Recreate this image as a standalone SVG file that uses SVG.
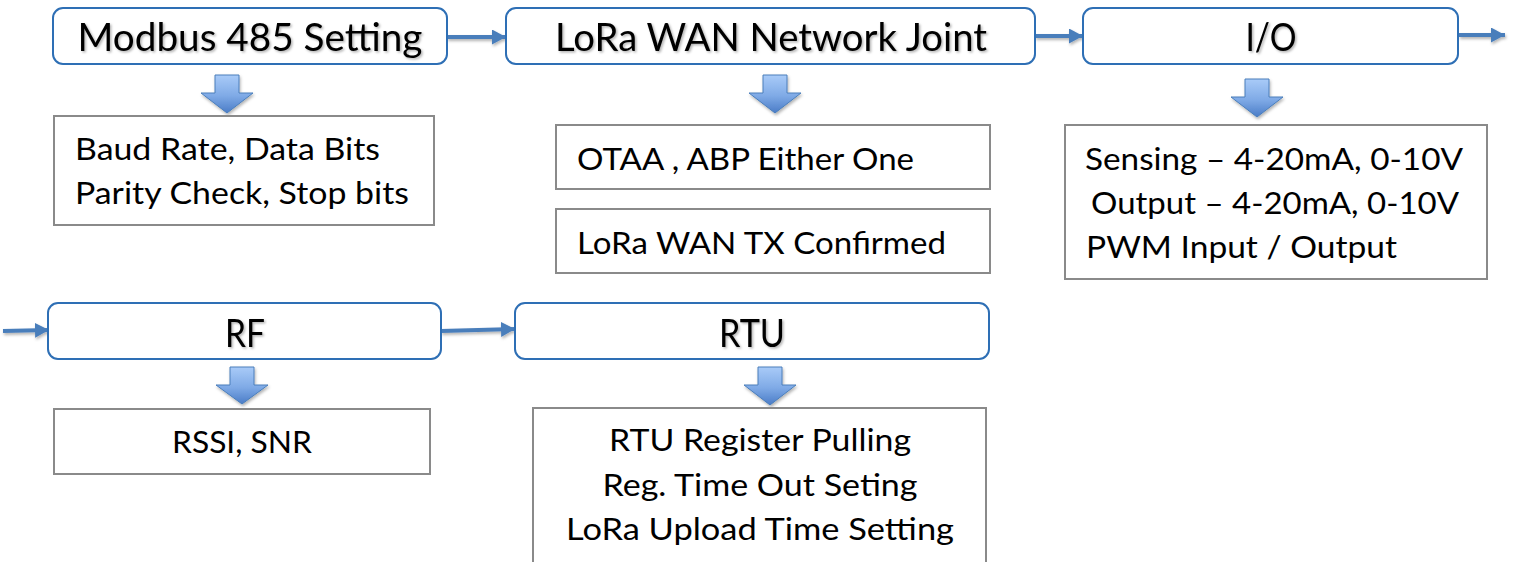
<svg xmlns="http://www.w3.org/2000/svg" width="1515" height="562" viewBox="0 0 1515 562">
  <style>
    .title-box { fill: #ffffff; stroke: #2e6fb5; stroke-width: 2; }
    .item-box { fill: #ffffff; stroke: #8a8a8a; stroke-width: 2; }
    .title { font-family: Lato, "Open Sans", "Liberation Sans", sans-serif; font-size: 39px; fill: #000000; text-anchor: middle; filter: url(#textShadow); }
    .item { font-family: Lato, "Open Sans", "Liberation Sans", sans-serif; font-size: 31px; fill: #000000; }
    .flow { stroke: #4a7ebb; stroke-width: 4; fill: none; marker-end: url(#head); }
    .down { fill: url(#downFill); stroke: #4a7ebb; stroke-width: 1; }
  </style>
  <defs>
    <linearGradient id="downFill" x1="0" y1="0" x2="0" y2="1">
      <stop offset="0" stop-color="#a9cbf8"/>
      <stop offset="0.55" stop-color="#7faae6"/>
      <stop offset="1" stop-color="#4a7cc7"/>
    </linearGradient>
    <marker id="head" markerUnits="userSpaceOnUse" markerWidth="16" markerHeight="16" refX="14" refY="7.5" orient="auto">
      <path d="M0,0 L14,7.5 L0,15 Z" fill="#4a7ebb"/>
    </marker>
    <filter id="textShadow" x="-5%" y="-20%" width="110%" height="150%">
      <feDropShadow dx="1.5" dy="1.5" stdDeviation="1.2" flood-color="#000000" flood-opacity="0.3"/>
    </filter>
    <filter id="shapeShadow" filterUnits="userSpaceOnUse" x="0" y="0" width="1515" height="562">
      <feDropShadow dx="1" dy="2" stdDeviation="1.5" flood-color="#000000" flood-opacity="0.3"/>
    </filter>
  </defs>

  <!-- connectors between the stage boxes -->
  <g id="connectors" filter="url(#shapeShadow)">
    <path class="flow" d="M447,37 L506,37"/>
    <path class="flow" d="M1035,36 L1083,36"/>
    <path class="flow" d="M1459,35 L1505,35"/>
    <path class="flow" d="M3,331 L49,330"/>
    <path class="flow" d="M441,331 L515,329"/>
    <path class="down" d="M215,75 H239 V93 H253 L227,113 L201,93 H215 Z"/>
    <path class="down" d="M763,75 H787 V93 H801 L775,113 L749,93 H763 Z"/>
    <path class="down" d="M1245,79 H1269 V97 H1283 L1257,117 L1231,97 H1245 Z"/>
    <path class="down" d="M230,367 H254 V385 H268 L242,404 L216,385 H230 Z"/>
    <path class="down" d="M758,367 H782 V385 H796 L770,405 L744,385 H758 Z"/>
  </g>

  <!-- Modbus 485 stage -->
  <g id="modbus">
    <rect class="title-box" x="53" y="8" width="394" height="56" rx="10"/>
    <text class="title" x="250" y="51" textLength="345" lengthAdjust="spacingAndGlyphs">Modbus 485 Setting</text>
  </g>
  <g id="modbus-params">
    <rect class="item-box" x="54" y="116" width="380" height="109"/>
    <text class="item" x="75" y="160" textLength="305" lengthAdjust="spacingAndGlyphs">Baud Rate, Data Bits</text>
    <text class="item" x="75" y="204" textLength="334" lengthAdjust="spacingAndGlyphs">Parity Check, Stop bits</text>
  </g>

  <!-- LoRa WAN join stage -->
  <g id="lorawan">
    <rect class="title-box" x="506" y="8" width="529" height="56" rx="10"/>
    <text class="title" x="771" y="51" textLength="432" lengthAdjust="spacingAndGlyphs">LoRa WAN Network Joint</text>
  </g>
  <g id="join-mode">
    <rect class="item-box" x="556" y="125" width="434" height="64"/>
    <text class="item" x="577" y="170" textLength="337" lengthAdjust="spacingAndGlyphs">OTAA , ABP Either One</text>
  </g>
  <g id="tx-confirmed">
    <rect class="item-box" x="556" y="209" width="434" height="64"/>
    <text class="item" x="577" y="254" textLength="369" lengthAdjust="spacingAndGlyphs">LoRa WAN TX Confirmed</text>
  </g>

  <!-- I/O stage -->
  <g id="io">
    <rect class="title-box" x="1083" y="8" width="375" height="56" rx="10"/>
    <text class="title" x="1271" y="51" textLength="51" lengthAdjust="spacingAndGlyphs">I/O</text>
  </g>
  <g id="io-params">
    <rect class="item-box" x="1065" y="125" width="422" height="154"/>
    <text class="item" x="1085" y="170" textLength="378" lengthAdjust="spacingAndGlyphs">Sensing – 4-20mA, 0-10V</text>
    <text class="item" x="1091" y="214" textLength="368" lengthAdjust="spacingAndGlyphs">Output – 4-20mA, 0-10V</text>
    <text class="item" x="1086" y="258" textLength="311" lengthAdjust="spacingAndGlyphs">PWM Input / Output</text>
  </g>

  <!-- RF stage -->
  <g id="rf">
    <rect class="title-box" x="48" y="303" width="393" height="56" rx="10"/>
    <text class="title" x="245" y="347" textLength="40" lengthAdjust="spacingAndGlyphs">RF</text>
  </g>
  <g id="rf-params">
    <rect class="item-box" x="54" y="409" width="376" height="65"/>
    <text class="item" x="242" y="453" text-anchor="middle" textLength="140" lengthAdjust="spacingAndGlyphs">RSSI, SNR</text>
  </g>

  <!-- RTU stage -->
  <g id="rtu">
    <rect class="title-box" x="515" y="303" width="474" height="56" rx="10"/>
    <text class="title" x="752" y="347" textLength="66" lengthAdjust="spacingAndGlyphs">RTU</text>
  </g>
  <g id="rtu-params">
    <rect class="item-box" x="533" y="408" width="453" height="170"/>
    <text class="item" x="760" y="451" text-anchor="middle" textLength="302" lengthAdjust="spacingAndGlyphs">RTU Register Pulling</text>
    <text class="item" x="760" y="496" text-anchor="middle" textLength="315" lengthAdjust="spacingAndGlyphs">Reg. Time Out Seting</text>
    <text class="item" x="760" y="540" text-anchor="middle" textLength="388" lengthAdjust="spacingAndGlyphs">LoRa Upload Time Setting</text>
  </g>
</svg>
